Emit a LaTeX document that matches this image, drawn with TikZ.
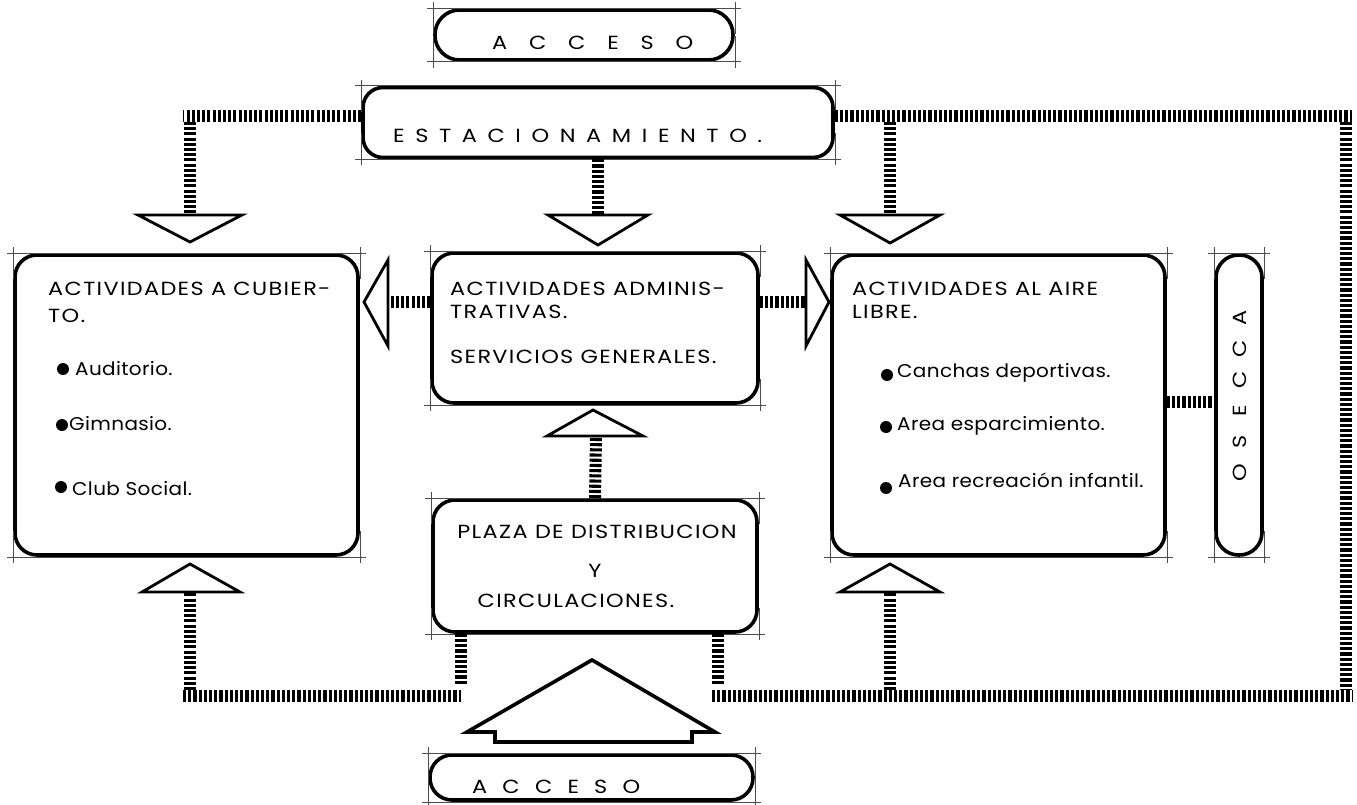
\documentclass[tikz,border=0pt]{standalone}
\usepackage{fontspec}
\setmainfont{Poppins}
\newfontfamily\capf[LetterSpace=7,FakeStretch=1.18]{Poppins}
\newfontfamily\lowf[LetterSpace=2,FakeStretch=1.08]{Poppins}
\begin{document}
\begin{tikzpicture}[x=1pt,y=-1pt,
  box/.style={draw, line width=3.6pt, rounded corners=22pt, inner sep=0pt},
  hatch/.style={line width=12pt, dash pattern=on 3.1pt off 2.1pt},
  tri/.style={line width=2.8pt, line join=miter},
  guide/.style={line width=0.6pt, black!70},
  lbl/.style={anchor=base west, inner sep=0pt, font=\capf\fontsize{19}{22}\selectfont},
  item/.style={anchor=base west, inner sep=0pt, font=\lowf\fontsize{18.5}{21}\selectfont},
  vlet/.style={inner sep=0pt, rotate=90, font=\capf\fontsize{19}{20}\selectfont}]
\useasboundingbox (0,0) rectangle (1357,805);
% boxes
\node[box, rounded corners=24.5pt, minimum width=298pt, minimum height=50pt] (accT) at (584,35) {};
\node[box, rounded corners=20pt, minimum width=470pt, minimum height=70pt] (est) at (598,122.5) {};
\node[box, minimum width=343pt, minimum height=300pt] (lbox) at (186.5,405) {};
\node[box, minimum width=326pt, minimum height=150pt] (mbox) at (595,328) {};
\node[box, minimum width=333pt, minimum height=300pt] (rbox) at (998.5,405) {};
\node[box, rounded corners=22.5pt, minimum width=46pt, minimum height=300pt] (accR) at (1239,405) {};
\node[box, minimum width=324pt, minimum height=132pt] (plaza) at (595,566) {};
\node[box, rounded corners=22pt, minimum width=323pt, minimum height=45pt] (accB) at (591.5,777.5) {};
% guides at corners
\foreach \n in {accT,est,lbox,mbox,rbox,accR,plaza,accB}{
  \draw[guide] ([shift={(-6,0)}]\n.north west) -- ([shift={(6,0)}]\n.north east);
  \draw[guide] ([shift={(-6,0)}]\n.south west) -- ([shift={(6,0)}]\n.south east);
  \draw[guide] ([shift={(0,-6)}]\n.north west) -- ([shift={(0,26)}]\n.north west);
  \draw[guide] ([shift={(0,-6)}]\n.north east) -- ([shift={(0,26)}]\n.north east);
  \draw[guide] ([shift={(0,6)}]\n.south west) -- ([shift={(0,-26)}]\n.south west);
  \draw[guide] ([shift={(0,6)}]\n.south east) -- ([shift={(0,-26)}]\n.south east);
}
% texts
\node[lbl] (tAT) at (492,50) {\makebox[201pt][s]{A\hfill C\hfill C\hfill E\hfill S\hfill O}};
\node[lbl] (tEst) at (393,143) {\makebox[369pt][s]{E\hfill S\hfill T\hfill A\hfill C\hfill I\hfill O\hfill N\hfill A\hfill M\hfill I\hfill E\hfill N\hfill T\hfill O\hfill .}};
\node[lbl] (tAB) at (472,793) {\makebox[168pt][s]{A\hfill C\hfill C\hfill E\hfill S\hfill O}};
\node[lbl] (l1) at (48,295) {ACTIVIDADES A CUBIER-};
\node[lbl] (l2) at (48,322) {TO.};
\node[item] (l3) at (75,375) {Auditorio.};
\node[item] (l4) at (69,430) {Gimnasio.};
\node[item] (l5) at (72,495) {Club Social.};
\fill (63,369) circle[radius=6pt];
\fill (62,425) circle[radius=6pt];
\fill (61,487) circle[radius=6pt];
\node[lbl] (m1) at (450,295) {ACTIVIDADES ADMINIS-};
\node[lbl] (m2) at (450,318) {TRATIVAS.};
\node[lbl] (m3) at (450,363) {SERVICIOS GENERALES.};
\node[lbl] (r1) at (852,295) {ACTIVIDADES AL AIRE};
\node[lbl] (r2) at (852,318) {LIBRE.};
\node[item] (r3) at (897,377) {Canchas deportivas.};
\node[item] (r4) at (897,430) {Area esparcimiento.};
\node[item] (r5) at (898,487) {Area recreación infantil.};
\fill (887,375) circle[radius=6pt];
\fill (886,427) circle[radius=6pt];
\fill (886,488) circle[radius=6pt];
\node[lbl, anchor=base] (p1) at (597,538) {PLAZA DE DISTRIBUCION};
\node[lbl, anchor=base] (p2) at (595,577) {Y};
\node[lbl, anchor=base] (p3) at (576,607) {CIRCULACIONES.};
\foreach \l/\yy [count=\i] in {A/318,C/349,C/380,E/411,S/442,O/473}{
  \node[vlet] (v\i) at (1240,\yy) {\l};
}
% coordinates
\coordinate (tl) at (183,116);
\coordinate (tr) at (1352,116);
\coordinate (vl) at (190,116);
\coordinate (vm) at (890,116);
\coordinate (vr) at (1346,116);
\coordinate (vrb) at (1346,696);
\coordinate (bl) at (183,696);
\coordinate (br) at (1352,696);
\coordinate (aL) at (190,215);
\coordinate (aM) at (598,215);
\coordinate (aR) at (890,215);
\coordinate (aSL) at (388,302);
\coordinate (aSR) at (806,302);
\coordinate (aUM) at (596,436);
\coordinate (aUL) at (190,592);
\coordinate (aUR) at (890,592);
\coordinate (pl) at (461,684);
\coordinate (pr) at (718,684);
\coordinate (lk) at (0,402);
% triangles
\draw[tri] ([shift={(-52,0)}]aL) -- ([shift={(0,27)}]aL) -- ([shift={(52,0)}]aL) -- cycle;
\draw[tri] ([shift={(-50,0)}]aM) -- ([shift={(0,30)}]aM) -- ([shift={(50,0)}]aM) -- cycle;
\draw[tri] ([shift={(-50,0)}]aR) -- ([shift={(0,28)}]aR) -- ([shift={(50,0)}]aR) -- cycle;
\draw[tri] ([shift={(0,-42)}]aSL) -- ([shift={(-24,0)}]aSL) -- ([shift={(0,44)}]aSL) -- cycle;
\draw[tri] ([shift={(0,-42)}]aSR) -- ([shift={(23,0)}]aSR) -- ([shift={(0,44)}]aSR) -- cycle;
\draw[tri] ([shift={(-49,0)}]aUM) -- ([shift={(-3,-26)}]aUM) -- ([shift={(47,0)}]aUM) -- cycle;
\draw[tri] ([shift={(-48,0)}]aUL) -- ([shift={(0,-28)}]aUL) -- ([shift={(50,0)}]aUL) -- cycle;
\draw[tri] ([shift={(-50,0)}]aUR) -- ([shift={(0,-28)}]aUR) -- ([shift={(50,0)}]aUR) -- cycle;
% big access arrow
\coordinate (hA) at (592,660);
\draw[tri, line width=3.6pt] (hA) -- (715,732) -- (692,732) -- (692,742) -- (495,742) -- (495,732) -- (467,732) -- cycle;
% hatched connectors
\draw[hatch] (est.west |- tl) -- (tl);
\draw[hatch] (est.east |- tr) -- (tr);
\draw[hatch] ([shift={(0,6)}]vl) -- (aL);
\draw[hatch] ([shift={(0,6)}]vm) -- (aR);
\draw[hatch] (est.south) -- (aM);
\draw[hatch] ([shift={(0,6)}]vr) -- ([shift={(0,-6)}]vrb);
\draw[hatch] (mbox.west |- aSL) -- (aSL);
\draw[hatch] (mbox.east |- aSR) -- (aSR);
\draw[hatch] (plaza.north) -- (aUM);
\draw[hatch] ([shift={(0,-6)}]aUL |- bl) -- (aUL);
\draw[hatch] ([shift={(0,-6)}]aUR |- br) -- (aUR);
\draw[hatch] (plaza.south -| pl) -- (pl);
\draw[hatch] (plaza.south -| pr) -- (pr);
\draw[hatch] (bl) -- (pl |- bl);
\draw[hatch] ([shift={(-6,0)}]pr |- br) -- (br);
\draw[hatch] (rbox.east |- lk) -- (accR.west |- lk);
\end{tikzpicture}
\end{document}
